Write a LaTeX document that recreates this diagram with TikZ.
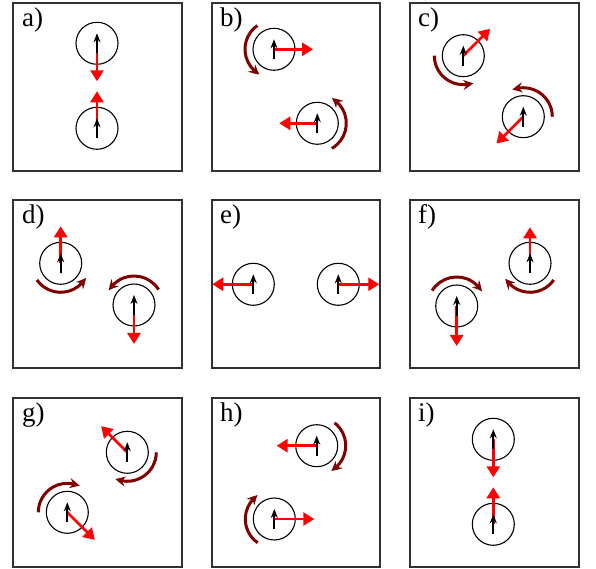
\documentclass[tikz,border=0pt]{standalone}
\usepackage{fontspec}
\setmainfont{Liberation Serif}
\usetikzlibrary{arrows.meta,bending}
\definecolor{darkrot}{RGB}{128,0,0}
\definecolor{frame}{RGB}{50,50,50}
\tikzset{
  panel/.style={draw=frame,line width=1.5pt},
  lab/.style={anchor=base west,inner sep=0pt,font=\fontsize{27}{30}\selectfont},
  spin/.style={circle,draw=black,line width=1.1pt,minimum size=42pt,inner sep=0pt},
  blk/.style={draw=black,line width=2pt,-{Stealth[length=9pt,width=7pt]}},
  redarr/.style={draw=red,line width=2.7pt,-{Triangle[length=11pt,width=13pt]}},
  rotarc/.style={draw=darkrot,line width=3pt,-{Stealth[length=10pt,width=10pt,bend]}}
}
\newcommand{\spinpair}[5]{% name, x, y, red angle, red length
  \node[spin] (#1) at (#2,#3) {};
  \draw[redarr] (#1.center) -- ++(#4:#5);
  \draw[blk] ([yshift=-10pt]#1.center) -- ([yshift=10pt]#1.center);
}
\begin{document}
\begin{tikzpicture}[x=1pt,y=1pt]
\useasboundingbox (0,0) rectangle (596,569);
% panels
\draw[panel] (13,398) rectangle (182,566);
\draw[panel] (212,398) rectangle (380,566);
\draw[panel] (410,398) rectangle (579,566);
\draw[panel] (13,201) rectangle (182,369);
\draw[panel] (212,201) rectangle (380,369);
\draw[panel] (410,201) rectangle (579,369);
\draw[panel] (13,2) rectangle (182,171);
\draw[panel] (212,2) rectangle (380,171);
\draw[panel] (410,2) rectangle (579,171);
% labels
\node[lab] (la) at (22,542) {a)};
\node[lab] (lb) at (220,542) {b)};
\node[lab] (lc) at (418,542) {c)};
\node[lab] (ld) at (22,345) {d)};
\node[lab] (le) at (220,345) {e)};
\node[lab] (lf) at (418,345) {f)};
\node[lab] (lg) at (22,147) {g)};
\node[lab] (lh) at (220,147) {h)};
\node[lab] (li) at (418,147) {i)};
% a
\spinpair{aT}{97}{525.7}{-90}{38}
\spinpair{aB}{97}{440.7}{90}{37}
% b
\spinpair{bT}{274}{519.7}{0}{39}
\spinpair{bB}{317.3}{445.7}{180}{38}
\draw[rotarc] (bT.center) ++(125:29) arc[start angle=125,end angle=240,radius=29];
\draw[rotarc] (bB.center) ++(-60:29) arc[start angle=-60,end angle=60,radius=29];
% c
\spinpair{cT}{463.3}{513.3}{45}{38}
\spinpair{cB}{523.3}{452.3}{225}{38}
\draw[rotarc] (cT.center) ++(180:29) arc[start angle=180,end angle=290,radius=29];
\draw[rotarc] (cB.center) ++(0:29) arc[start angle=0,end angle=112,radius=29];
% d
\spinpair{dT}{60.7}{305.7}{90}{37}
\spinpair{dB}{134}{264}{-90}{39}
\draw[rotarc] (dT.center) ++(215:29) arc[start angle=215,end angle=330,radius=29];
\draw[rotarc] (dB.center) ++(32:29) arc[start angle=32,end angle=150,radius=29];
% e
\spinpair{eL}{253.3}{284.7}{180}{41}
\spinpair{eR}{338.3}{284.7}{0}{41}
% f
\spinpair{fT}{530}{305.7}{90}{36}
\spinpair{fB}{456.7}{263}{-90}{40}
\draw[rotarc] (fT.center) ++(325:29) arc[start angle=325,end angle=212,radius=29];
\draw[rotarc] (fB.center) ++(148:29) arc[start angle=148,end angle=30,radius=29];
% g
\spinpair{gT}{127.3}{116.7}{135}{37}
\spinpair{gB}{67.3}{56.7}{-45}{39}
\draw[rotarc] (gT.center) ++(0:29) arc[start angle=0,end angle=-114,radius=29];
\draw[rotarc] (gB.center) ++(180:29) arc[start angle=180,end angle=65,radius=29];
% h
\spinpair{hT}{316.7}{123.3}{180}{40}
\spinpair{hB}{274.3}{50}{0}{40}
\draw[rotarc] (hT.center) ++(52:29) arc[start angle=52,end angle=-60,radius=29];
\draw[rotarc] (hB.center) ++(235:29) arc[start angle=235,end angle=125,radius=29];
% i
\spinpair{iT}{493.3}{129.7}{-90}{38}
\spinpair{iB}{493.3}{44.7}{90}{37}
\end{tikzpicture}
\end{document}
